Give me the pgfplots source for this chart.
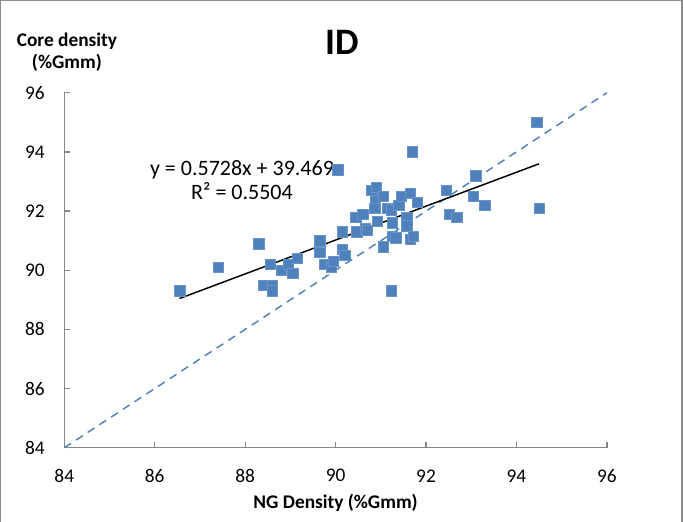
\documentclass[border=0pt]{standalone}
\usepackage{fontspec}
\setmainfont{Carlito}
\usepackage{pgfplots}
\pgfplotsset{compat=1.18}

\definecolor{xlblue}{HTML}{4F81BD}
\definecolor{axisgray}{HTML}{868686}
\definecolor{framegray}{HTML}{8C8C8C}

\begin{document}
\begin{tikzpicture}
% 1 px of the reference = 0.75pt
\path[use as bounding box] (0,0) rectangle (512.25pt,-391.5pt);
\draw[framegray, line width=0.9pt] (0.6pt,-400pt) -- (0.6pt,-0.6pt) -- (511.5pt,-0.6pt) -- (511.5pt,-400pt);
\begin{axis}[
  at={(48.2pt,-335.8pt)}, anchor=south west,
  scale only axis,
  width=407pt, height=266.25pt,
  xmin=84, xmax=96, ymin=84, ymax=96,
  xtick={84,86,...,96}, ytick={84,86,...,96},
  axis lines=left,
  axis line style={draw=axisgray, line width=0.9pt, -},
  tick style={draw=axisgray, line width=0.9pt},
  major tick length=4pt,
  tick align=inside,
  /pgf/number format/assume math mode=true,
  ticklabel style={font=\fontsize{14.5}{17}\selectfont},
  xticklabel style={anchor=center, yshift=-21pt},
  yticklabel style={anchor=center, xshift=-22pt},
  xlabel={NG Density (\%Gmm)},
  xlabel style={at={(axis description cs:0.5,0)}, anchor=center, yshift=-41pt,
    font=\bfseries\fontsize{14.5}{17}\selectfont},
  clip=false,
]
% line of equality
\addplot[xlblue, line width=1.1pt, dash pattern=on 6pt off 4.5pt] coordinates {(84,84) (96,96)};
% data
\addplot[only marks, mark=square*, mark size=3.9pt,
  mark options={fill=xlblue, draw=xlblue!85!white, line width=0.4pt}] coordinates {
(86.55,89.3) (87.4,90.1) (88.3,90.9) (88.4,89.5) (88.6,89.5) (88.6,89.3)
(88.55,90.2) (88.8,90.0) (88.95,90.2) (89.05,89.9) (89.15,90.4) (89.65,91.0)
(89.65,90.6) (89.75,90.2) (89.9,90.1) (89.95,90.3) (90.05,93.4) (90.15,91.3)
(90.15,90.7) (90.2,90.5) (90.45,91.8) (90.6,91.9) (90.47,91.3) (90.65,91.4)
(90.7,91.35) (90.8,92.7) (90.9,92.8) (90.88,92.35) (90.87,92.1) (90.92,91.65)
(91.05,90.8) (91.05,92.5) (91.15,92.1) (91.23,92.05) (91.4,92.2) (91.45,92.5)
(91.65,92.6) (91.8,92.3) (91.7,94.0) (91.25,91.6) (91.57,91.78) (91.57,91.5)
(91.25,91.15) (91.33,91.1) (91.65,91.05) (91.72,91.14) (91.23,89.3) (92.45,92.7)
(92.52,91.9) (92.68,91.8) (93.05,92.5) (93.1,93.2) (93.3,92.2) (94.5,92.1)
(94.45,95.0)
};
% linear trend line y = 0.5728x + 39.469
\addplot[black, line width=1.1pt] coordinates {(86.55,89.045) (94.5,93.598)};
\node[align=center, font=\fontsize{16.5}{18.5}\selectfont] at (axis cs:87.93,93.05)
  {y = 0.5728x + 39.469\\R² = 0.5504};
\node[font=\bfseries\fontsize{28}{30}\selectfont] at ([xshift=4.8pt,yshift=38pt]axis description cs:0.5,1) {ID};
\node[align=center, font=\bfseries\fontsize{14.5}{17}\selectfont] at ([xshift=2pt,yshift=30.5pt]axis description cs:0,1) {Core density\\(\%Gmm)};
\end{axis}
\end{tikzpicture}
\end{document}
